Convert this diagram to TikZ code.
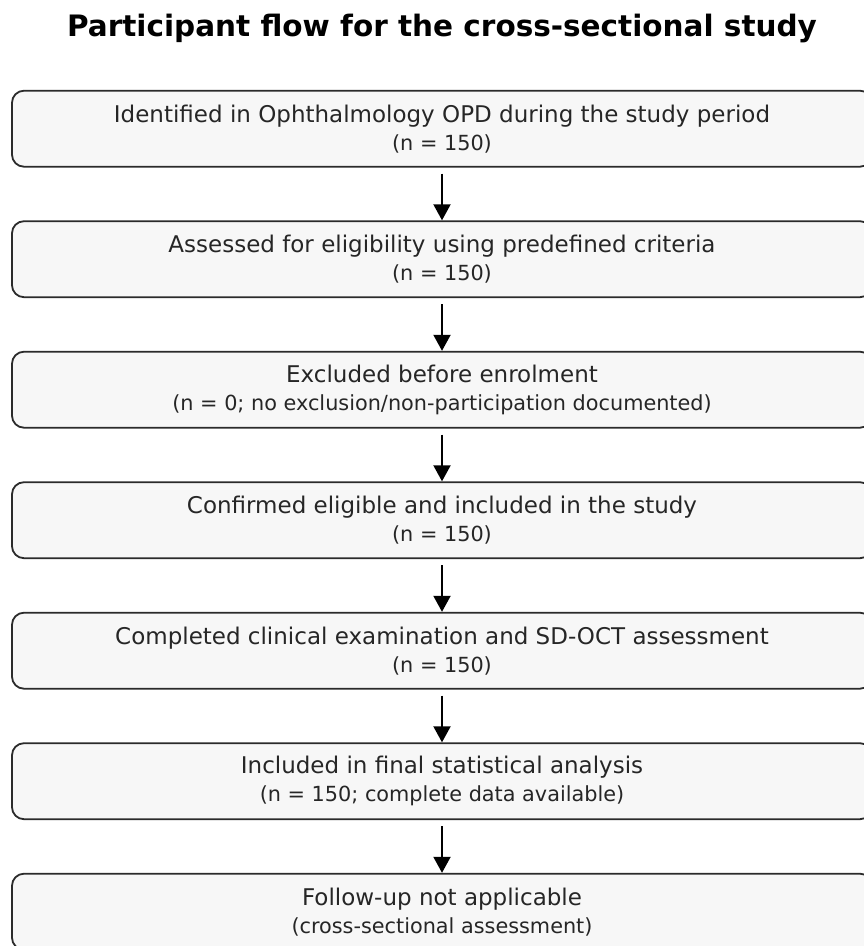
\documentclass[tikz,border=0pt]{standalone}
\usepackage{fontspec}
\setmainfont{DejaVu Sans}
\usepackage{xcolor}
\usetikzlibrary{arrows.meta,positioning}

\definecolor{boxfill}{HTML}{F7F7F7}
\definecolor{boxline}{HTML}{2B2B2B}
\definecolor{boxtext}{HTML}{262626}

\newcommand{\mainline}{\fontsize{23}{28}\selectfont}
\newcommand{\subline}{\fontsize{20.8}{28}\selectfont}

\begin{document}
\begin{tikzpicture}[
    x=1pt, y=1pt,
    stage/.style = {draw=boxline, fill=boxfill, line width=1.8pt, rounded corners=12pt,
        minimum width=860pt, minimum height=76pt, align=center, text=boxtext, inner sep=0pt,
        font=\mainline},
    flow/.style = {line width=2pt, -{Triangle[length=16pt, width=17pt]}, shorten <=6pt}
]
    \useasboundingbox (0,0) rectangle (864,-946);

    \node[font=\bfseries\fontsize{29.5}{34}\selectfont, anchor=base] (title) at (442,-36)
        {Participant flow for the cross-sectional study};

    \node[stage] (1) at (442,-128.7) {Identified in Ophthalmology OPD during the study period\\ \subline (n = 150)};
    \node[stage] (2) at (442,-259.2) {Assessed for eligibility using predefined criteria\\ \subline (n = 150)};
    \node[stage] (3) at (442,-389.7) {Excluded before enrolment\\ \subline (n = 0; no exclusion/non-participation documented)};
    \node[stage] (4) at (442,-520.2) {Confirmed eligible and included in the study\\ \subline (n = 150)};
    \node[stage] (5) at (442,-650.7) {Completed clinical examination and SD-OCT assessment\\ \subline (n = 150)};
    \node[stage] (6) at (442,-781.2) {Included in final statistical analysis\\ \subline (n = 150; complete data available)};
    \node[stage] (7) at (442,-911.7) {Follow-up not applicable\\ \subline (cross-sectional assessment)};

    \draw[flow] (1) -- (2);
    \draw[flow] (2) -- (3);
    \draw[flow] (3) -- (4);
    \draw[flow] (4) -- (5);
    \draw[flow] (5) -- (6);
    \draw[flow] (6) -- (7);
\end{tikzpicture}
\end{document}
